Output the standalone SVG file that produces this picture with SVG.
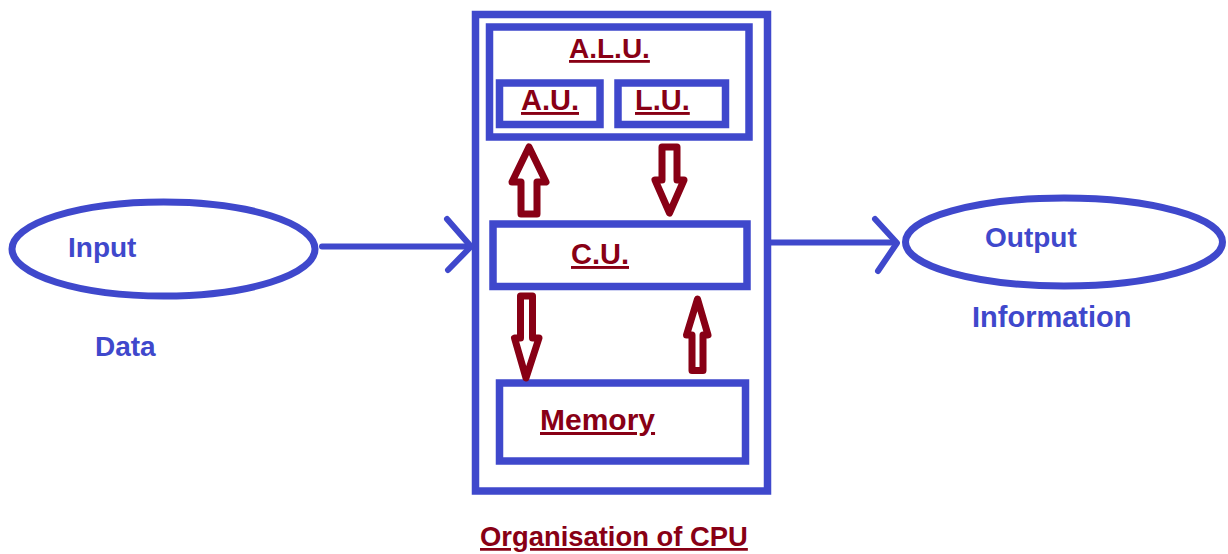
<svg xmlns="http://www.w3.org/2000/svg" width="1228" height="554" viewBox="0 0 1228 554">
  <style>
    .box { fill: none; stroke: #3F48CC; stroke-width: 7.5; }
    .oval { fill: none; stroke: #3F48CC; stroke-width: 7; }
    .conn { fill: none; stroke: #3F48CC; stroke-width: 6; stroke-linecap: round; stroke-linejoin: round; }
    .harrow { fill: none; stroke: #880015; stroke-width: 7; stroke-linejoin: round; }
    .red { font-family: "Liberation Sans", Arial, sans-serif; font-weight: bold; font-size: 28px; fill: #880015; text-decoration: underline; }
    .blue { font-family: "Liberation Sans", Arial, sans-serif; font-weight: bold; font-size: 28px; fill: #3F48CC; }
  </style>
  <rect width="1228" height="554" fill="#ffffff"/>

  <g id="cpu">
    <rect class="box" x="475.5" y="14.5" width="292" height="476.5"/>
  </g>
  <g id="alu">
    <rect class="box" x="489.5" y="27" width="259.5" height="110"/>
    <text class="red" x="569" y="58">A.L.U.</text>
  </g>
  <g id="au">
    <rect class="box" x="499.5" y="83" width="100.5" height="41.5"/>
    <text class="red" x="521" y="110" style="font-size:29px">A.U.</text>
  </g>
  <g id="lu">
    <rect class="box" x="618" y="83" width="107.5" height="41.5"/>
    <text class="red" x="635" y="110" style="font-size:29px">L.U.</text>
  </g>
  <g id="cu">
    <rect class="box" x="493" y="224" width="254" height="62.5"/>
    <text class="red" x="571" y="264" style="font-size:29px">C.U.</text>
  </g>
  <g id="memory">
    <rect class="box" x="499.5" y="383" width="246" height="78"/>
    <text class="red" x="540" y="430" style="font-size:30px">Memory</text>
  </g>
  <g id="input">
    <ellipse class="oval" cx="163.5" cy="249" rx="151.5" ry="47"/>
    <text class="blue" x="68" y="257">Input</text>
  </g>
  <g id="data-label">
    <text class="blue" x="95" y="356">Data</text>
  </g>
  <g id="output">
    <ellipse class="oval" cx="1064" cy="242" rx="158.5" ry="44"/>
    <text class="blue" x="985" y="247">Output</text>
  </g>
  <g id="information-label">
    <text class="blue" x="972" y="327" style="font-size:29px">Information</text>
  </g>
  <g id="title">
    <text class="red" x="480" y="546" style="font-size:27.4px">Organisation of CPU</text>
  </g>

  <g id="connectors">
    <line class="conn" x1="322" y1="246.5" x2="470" y2="246.5"/>
    <polyline class="conn" points="447,219 471,246.5 448,270"/>
    <line class="conn" x1="771" y1="242.5" x2="895" y2="242.5"/>
    <polyline class="conn" points="875,219 897,243 878,271"/>
    <polygon class="harrow" points="529,147 546,182 537,182 537,214 521,214 521,182 512,182"/>
    <polygon class="harrow" points="662,147 677,147 677,180 684,180 669.5,213 655,180 662,180"/>
    <polygon class="harrow" points="520.5,296 532.5,296 532.5,338 539,338 526,378 514.5,338 520.5,338"/>
    <polygon class="harrow" points="697.5,299 708,335 703,335 703,370.5 692,370.5 692,335 686.5,335"/>
  </g>
</svg>
